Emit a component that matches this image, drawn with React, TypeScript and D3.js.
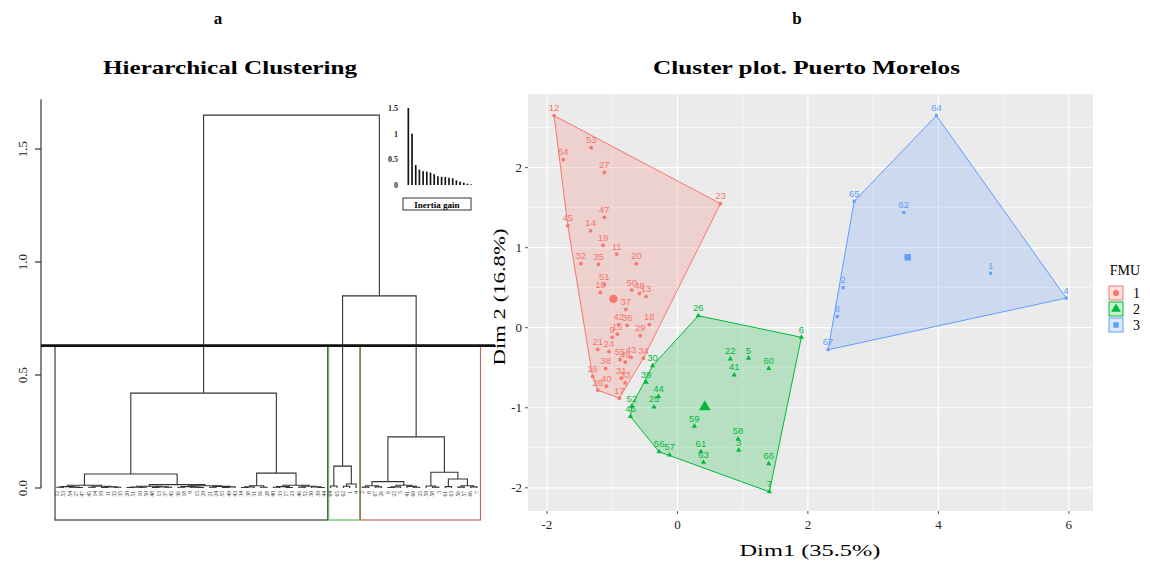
import React from "react";
import * as d3 from "d3";

type Tree = number | [number, Tree, Tree];

// ---------- Dendrogram (panel a): merge heights, leaves are observation labels ----------
const groupA1: Tree = [0.012, [0.006, [0.003, 12, 53], [0.004, 54, [0.002, 27, 47]]], [0.008, [0.003, 45, 14], [0.005, [0.002, 19, 11], [0.003, 32, 35]]]];
const groupA2a: Tree = [0.008, [0.004, [0.002, 20, 51], [0.003, 10, 50]], [0.005, [0.002, 48, 13], [0.003, 37, 42]]];
const groupA2b: Tree = [0.01, [0.006, [0.003, 36, 18], [0.004, 9, [0.002, 15, 29]]], [0.007, [0.003, 21, 24], [0.005, [0.002, 55, 49], 43]]];
const groupB1: Tree = [0.01, [0.005, [0.002, 34, 38], 31], [0.003, 16, 28]];
const groupB2: Tree = [0.012, [0.006, [0.003, 40, 33], [0.002, 17, 23]], [0.008, [0.004, 46, 52], [0.005, 30, [0.002, 39, 44]]]];
const groupG: Tree = [0.097, [0.009, 64, 65], [0.018, [0.008, 62, 1], 4]];
const groupR1: Tree = [0.028, [0.01, [0.004, 2, 8], [0.005, 67, 26]], [0.012, [0.005, [0.002, 6, 22], 5], [0.007, 41, [0.003, 60, 25]]]];
const groupR2: Tree = [0.07, [0.009, 59, [0.004, 58, 3]], [0.04, [0.006, 61, 63], [0.01, [0.004, 56, 57], [0.005, 66, 7]]]];
const mergeHeights = { A2: 0.015, A: 0.062, B: 0.066, black: 0.42, red: 0.226, right: 0.85, root: 1.65 };
const cutHeight = 0.63;
const dendroTicks = [0, 0.5, 1, 1.5];
const dendroTickLabels = ["0.0", "0.5", "1.0", "1.5"];

// inertia gain inset
const inertiaGain = [1.5, 1.0, 0.39, 0.3, 0.27, 0.26, 0.24, 0.21, 0.17, 0.16, 0.155, 0.14, 0.13, 0.09, 0.065, 0.045, 0.026, 0.013];
const inertiaTicks = [0, 0.5, 1, 1.5];
const inertiaTickLabels = ["0", "0.5", "1", "1.5"];

// ---------- Cluster plot (panel b) ----------
const fmu1Labels = [12, 53, 54, 27, 23, 47, 45, 14, 19, 11, 32, 35, 20, 51, 10, 50, 48, 13, 37, 42, 36, 18, 9, 15, 29, 21, 24, 55, 49, 43, 34, 38, 16, 31, 33, 28, 40, 17];
const fmu1Dim1 = [-1.89, -1.32, -1.75, -1.12, 0.66, -1.12, -1.68, -1.33, -1.14, -0.93, -1.48, -1.21, -0.63, -1.12, -1.18, -0.7, -0.58, -0.48, -0.79, -0.9, -0.77, -0.43, -1.0, -0.92, -0.57, -1.22, -1.05, -0.88, -0.8, -0.71, -0.52, -1.1, -1.3, -0.86, -0.8, -1.22, -1.09, -0.89];
const fmu1Dim2 = [2.65, 2.25, 2.1, 1.94, 1.55, 1.38, 1.275, 1.21, 1.03, 0.92, 0.8, 0.79, 0.8, 0.54, 0.44, 0.47, 0.43, 0.39, 0.23, 0.04, 0.03, 0.04, -0.12, -0.08, -0.1, -0.27, -0.3, -0.4, -0.43, -0.37, -0.38, -0.51, -0.61, -0.63, -0.69, -0.78, -0.73, -0.88];

const fmu2Labels = [26, 6, 22, 5, 41, 60, 30, 39, 44, 25, 52, 46, 59, 58, 3, 61, 63, 56, 57, 66, 7];
const fmu2Dim1 = [0.32, 1.9, 0.81, 1.09, 0.87, 1.4, -0.38, -0.48, -0.29, -0.36, -0.7, -0.72, 0.26, 0.93, 0.94, 0.36, 0.4, -0.28, -0.12, 1.4, 1.41];
const fmu2Dim2 = [0.15, -0.12, -0.39, -0.38, -0.59, -0.51, -0.475, -0.68, -0.86, -0.99, -0.98, -1.11, -1.23, -1.39, -1.53, -1.55, -1.68, -1.55, -1.59, -1.7, -2.05];

const fmu3Labels = [64, 65, 62, 1, 4, 2, 8, 67];
const fmu3Dim1 = [3.97, 2.71, 3.47, 4.8, 5.96, 2.54, 2.45, 2.31];
const fmu3Dim2 = [2.65, 1.58, 1.44, 0.68, 0.37, 0.5, 0.14, -0.275];

const fmuNames = ["1", "2", "3"];
const fmuColors = ["#F8766D", "#00BA38", "#619CFF"];
const centerDim1 = [-0.98, 0.42, 3.53];
const centerDim2 = [0.36, -0.99, 0.88];
const xTicks = [-2, 0, 2, 4, 6];
const yTicks = [-2, -1, 0, 1, 2];
const xMinor = [-1, 1, 3, 5];
const yMinor = [-1.5, -0.5, 0.5, 1.5, 2.5];

const serif = "'Liberation Serif', 'DejaVu Serif', serif";
const sans = "'Liberation Sans', Arial, sans-serif";

export default function App() {
  // ---- dendrogram layout ----
  const blackTree: Tree = [mergeHeights.black, [mergeHeights.A, groupA1, [mergeHeights.A2, groupA2a, groupA2b]], [mergeHeights.B, groupB1, groupB2]];
  const redTree: Tree = [mergeHeights.red, groupR1, groupR2];
  const rootTree: Tree = [mergeHeights.root, blackTree, [mergeHeights.right, groupG, redTree]];
  const root = d3.hierarchy<Tree>(rootTree, (d) => (Array.isArray(d) ? [d[1], d[2]] : null));
  const leaves = root.leaves();
  const leafX = d3.scaleLinear().domain([0, leaves.length - 1]).range([57, 477]);
  const hY = d3.scaleLinear().domain([0, 1.5]).range([488, 149]);
  const px = new Map<any, number>();
  const ph = new Map<any, number>();
  leaves.forEach((l, i) => { px.set(l, leafX(i)); ph.set(l, 0); });
  root.eachAfter((n) => {
    if (n.children) {
      px.set(n, d3.mean(n.children, (c) => px.get(c)!)!);
      ph.set(n, (n.data as any)[0]);
    }
  });
  const dendroPaths: string[] = [];
  root.each((n) => {
    if (!n.children) return;
    const y = hY(ph.get(n)!);
    const [c1, c2] = n.children;
    dendroPaths.push(`M${px.get(c1)},${hY(ph.get(c1)!)}V${y}H${px.get(c2)}V${hY(ph.get(c2)!)}`);
  });
  const blackNode = root.children![0];
  const greenNode = root.children![1].children![0];
  const redNode = root.children![1].children![1];
  const boxFor = (n: any) => {
    const ls = n.leaves();
    return [leafX(leaves.indexOf(ls[0])) - 2, leafX(leaves.indexOf(ls[ls.length - 1])) + 3.5];
  };
  const boxes = [
    { b: boxFor(blackNode), c: "#3a3a3a" },
    { b: boxFor(greenNode), c: "#5fbf5f" },
    { b: boxFor(redNode), c: "#c06868" },
  ];
  const cutY = hY(cutHeight);

  // inset
  const inX = d3.scaleBand<number>().domain(inertiaGain.map((_, i) => i)).range([407.5, 472]).paddingInner(0.55);
  const inY = d3.scaleLinear().domain([0, 1.5]).range([185, 108]);

  // ---- cluster plot ----
  const x = d3.scaleLinear().domain([-2.29, 6.37]).range([528, 1093]);
  const y = d3.scaleLinear().domain([-2.29, 2.92]).range([511, 94]);
  const color = d3.scaleOrdinal<string, string>().domain(fmuNames).range(fmuColors);
  const groups = [
    { name: "1", labels: fmu1Labels, d1: fmu1Dim1, d2: fmu1Dim2, shape: d3.symbolCircle, ps: 11, cs: 55 },
    { name: "2", labels: fmu2Labels, d1: fmu2Dim1, d2: fmu2Dim2, shape: d3.symbolTriangle, ps: 12, cs: 60 },
    { name: "3", labels: fmu3Labels, d1: fmu3Dim1, d2: fmu3Dim2, shape: d3.symbolSquare, ps: 9, cs: 42 },
  ];
  const [px0, px1] = x.range();
  const [py1, py0] = y.range();

  return (
    <svg width={1150} height={561} style={{ position: "absolute", left: 0, top: 0, background: "#fff" }}>
      <rect width={1150} height={561} fill="#fff" />
      {/* ======== Panel a ======== */}
      <text x={218} y={24} textAnchor="middle" fontFamily={serif} fontWeight="bold" fontSize={17}>a</text>
      <text x={230} y={74} textAnchor="middle" fontFamily={serif} fontWeight="bold" fontSize={19} textLength={254} lengthAdjust="spacingAndGlyphs">Hierarchical Clustering</text>
      {/* y axis */}
      <line x1={41} x2={41} y1={hY(0)} y2={hY(1.72)} stroke="#333" strokeWidth={1.2} />
      {dendroTicks.map((t, i) => (
        <g key={t}>
          <line x1={35} x2={41} y1={hY(t)} y2={hY(t)} stroke="#333" strokeWidth={1.2} />
          <text transform={`translate(27,${hY(t)}) rotate(-90)`} textAnchor="middle" fontFamily={serif} fontSize={13} fill="#222">{dendroTickLabels[i]}</text>
        </g>
      ))}
      {/* cluster boxes */}
      {boxes.map((bx, i) => (
        <rect key={i} x={bx.b[0]} y={cutY} width={bx.b[1] - bx.b[0]} height={520 - cutY} fill="none" stroke={bx.c} strokeWidth={1.2} />
      ))}
      {/* dendrogram */}
      {dendroPaths.map((d, i) => (
        <path key={i} d={d} fill="none" stroke="#333" strokeWidth={1.1} />
      ))}
      {leaves.map((l, i) => (
        <text key={i} transform={`translate(${leafX(i) + 1.8},${hY(0) + 3}) rotate(-90)`} textAnchor="end" fontFamily={serif} fontSize={5.5} fill="#333">{String(l.data)}</text>
      ))}
      {/* cut line */}
      <line x1={41} x2={495} y1={cutY} y2={cutY} stroke="#111" strokeWidth={2.6} />
      {/* inset: inertia gain */}
      {inertiaGain.map((v, i) => (
        <rect key={i} x={inX(i)} y={inY(v)} width={inX.bandwidth()} height={inY(0) - inY(v)} fill="#111" />
      ))}
      {inertiaTicks.map((t, i) => (
        <text key={t} x={398} y={inY(t) + 3} textAnchor="end" fontFamily={serif} fontWeight="bold" fontSize={8} fill="#222">{inertiaTickLabels[i]}</text>
      ))}
      <rect x={403} y={198} width={68} height={12} fill="#fff" stroke="#333" strokeWidth={1} />
      <text x={437} y={207.5} textAnchor="middle" fontFamily={serif} fontWeight="bold" fontSize={9}>Inertia gain</text>

      {/* ======== Panel b ======== */}
      <text x={797} y={24} textAnchor="middle" fontFamily={serif} fontWeight="bold" fontSize={17}>b</text>
      <text x={806.5} y={74} textAnchor="middle" fontFamily={serif} fontWeight="bold" fontSize={19} textLength={307} lengthAdjust="spacingAndGlyphs">Cluster plot. Puerto Morelos</text>
      <rect x={px0} y={py0} width={px1 - px0} height={py1 - py0} fill="#EBEBEB" />
      {xMinor.map((t) => <line key={"xm" + t} x1={x(t)} x2={x(t)} y1={py0} y2={py1} stroke="#fff" strokeWidth={0.6} />)}
      {yMinor.map((t) => <line key={"ym" + t} x1={px0} x2={px1} y1={y(t)} y2={y(t)} stroke="#fff" strokeWidth={0.6} />)}
      {xTicks.map((t) => <line key={"xg" + t} x1={x(t)} x2={x(t)} y1={py0} y2={py1} stroke="#fff" strokeWidth={1.2} />)}
      {yTicks.map((t) => <line key={"yg" + t} x1={px0} x2={px1} y1={y(t)} y2={y(t)} stroke="#fff" strokeWidth={1.2} />)}
      {groups.map((g) => {
        const pts = g.d1.map((v, i) => [x(v), y(g.d2[i])] as [number, number]);
        const hull = d3.polygonHull(pts)!;
        const c = color(g.name);
        return (
          <g key={"hull" + g.name}>
            <path d={"M" + hull.map((p) => p.join(",")).join("L") + "Z"} fill={c} fillOpacity={0.22} stroke={c} strokeWidth={1} />
          </g>
        );
      })}
      {groups.map((g) => {
        const c = color(g.name);
        const sym = d3.symbol().type(g.shape).size(g.ps)();
        const csym = d3.symbol().type(g.shape).size(g.cs)();
        const gi = fmuNames.indexOf(g.name);
        return (
          <g key={"pts" + g.name}>
            {g.d1.map((v, i) => (
              <g key={i}>
                <path d={sym!} transform={`translate(${x(v)},${y(g.d2[i])})`} fill={c} />
                <text x={x(v)} y={y(g.d2[i]) - 4.5} textAnchor="middle" fontFamily={sans} fontSize={9.5} fill={c}>{g.labels[i]}</text>
              </g>
            ))}
            <path d={csym!} transform={`translate(${x(centerDim1[gi])},${y(centerDim2[gi])})`} fill={c} />
          </g>
        );
      })}
      {/* axes */}
      {xTicks.map((t) => (
        <g key={"xt" + t}>
          <line x1={x(t)} x2={x(t)} y1={py1} y2={py1 + 3} stroke="#555" />
          <text x={x(t)} y={py1 + 18} textAnchor="middle" fontFamily={serif} fontSize={13} fill="#222">{t}</text>
        </g>
      ))}
      {yTicks.map((t) => (
        <g key={"yt" + t}>
          <line x1={px0 - 3} x2={px0} y1={y(t)} y2={y(t)} stroke="#555" />
          <text x={px0 - 6} y={y(t) + 4.5} textAnchor="end" fontFamily={serif} fontSize={13} fill="#222">{t}</text>
        </g>
      ))}
      <text x={810} y={556} textAnchor="middle" fontFamily={serif} fontSize={17} textLength={141} lengthAdjust="spacingAndGlyphs">Dim1  (35.5%)</text>
      <text transform={`translate(505,297) rotate(-90)`} textAnchor="middle" fontFamily={serif} fontSize={17} textLength={137} lengthAdjust="spacingAndGlyphs">Dim 2  (16.8%)</text>
      {/* legend */}
      <text x={1125} y={275} textAnchor="middle" fontFamily={serif} fontSize={14}>FMU</text>
      {groups.map((g, i) => {
        const c = color(g.name);
        const cy = 293 + i * 16;
        const sym = d3.symbol().type(g.shape).size(i === 1 ? 40 : 30)();
        return (
          <g key={"lg" + g.name}>
            <rect x={1109} y={cy - 7} width={14} height={14} fill={c} fillOpacity={0.22} stroke={c} strokeWidth={1} />
            <path d={sym!} transform={`translate(1116,${cy})`} fill={c} />
            <text x={1133} y={cy + 5} fontFamily={serif} fontSize={14}>{g.name}</text>
          </g>
        );
      })}
    </svg>
  );
}
